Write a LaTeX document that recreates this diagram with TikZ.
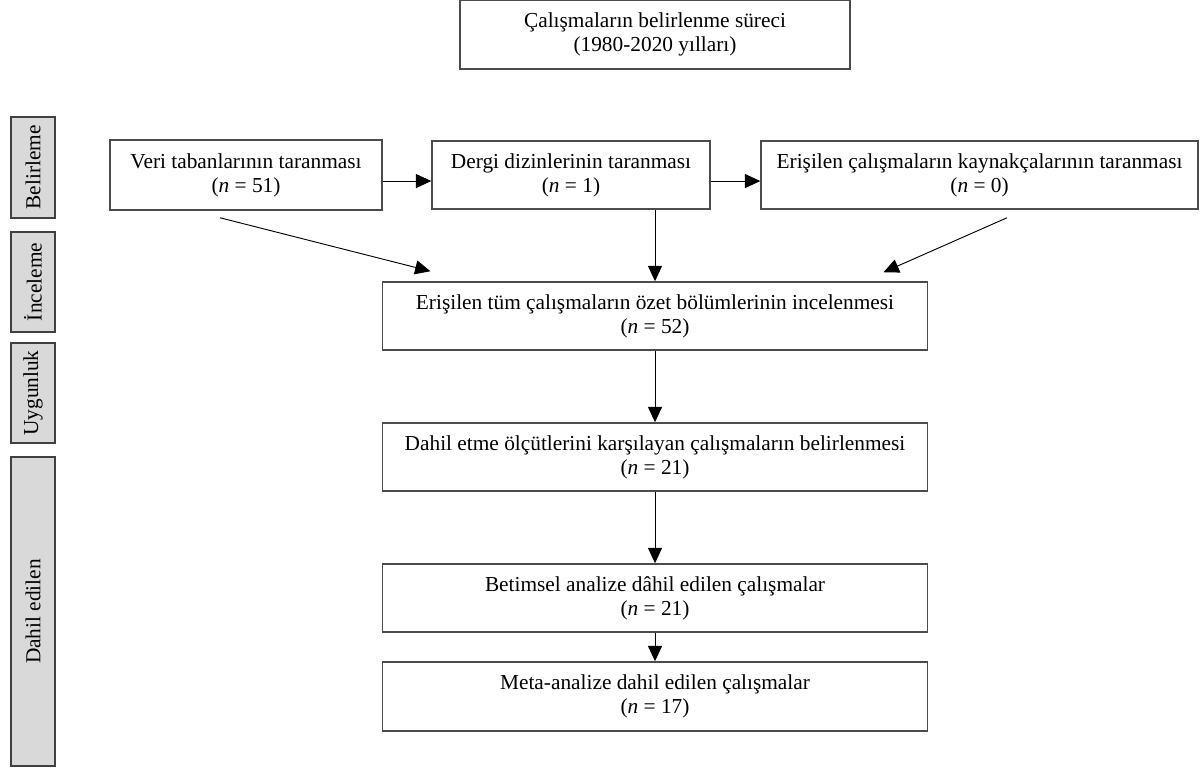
\documentclass[tikz,border=0pt]{standalone}
\usepackage{fontspec}
\setmainfont{Liberation Serif}
\usetikzlibrary{positioning,calc,arrows.meta}

\begin{document}
\begin{tikzpicture}[auto, node distance=105.75pt,
    every node/.style={rectangle, align=center, inner sep=0pt, font=\fontsize{16}{18}\selectfont},
    box/.style={draw=black!70, line width=1.1pt, fill=white, minimum height=51pt},
    side/.style={draw=black!75, line width=0.9pt, fill=black!15, rotate=90, minimum width=75pt, minimum height=33pt},
    arr/.style={-{Triangle[length=11.5pt,width=10.5pt]}, line width=0.7pt, black}]
    \useasboundingbox (0,0) rectangle (902.25pt,-576pt);
    \node [box, minimum width=292.5pt, minimum height=51.75pt] (start) at (491.25pt,-25.875pt) {Çalışmaların belirlenme süreci\\(1980-2020 yılları)};
    \node [box, below of=start, node distance=105.4pt, xshift=-63pt, minimum width=208.5pt] (dergi) {Dergi dizinlerinin taranması\\(\textit{n} = 1)};
    \node [box, left of=dergi, node distance=243.75pt, minimum width=204pt, minimum height=52.5pt] (veri) {Veri tabanlarının taranması\\(\textit{n} = 51)};
    \node [box, right of=dergi, node distance=306.4pt, minimum width=327.75pt] (kaynak) {Erişilen çalışmaların kaynakçalarının taranması\\(\textit{n} = 0)};
    \node [box, below of=start, node distance=211.1pt, minimum width=408.75pt] (incel) {Erişilen tüm çalışmaların özet bölümlerinin incelenmesi\\(\textit{n} = 52)};
    \node [box, below of=incel, minimum width=408.75pt] (dahil) {Dahil etme ölçütlerini karşılayan çalışmaların belirlenmesi\\(\textit{n} = 21)};
    \node [box, below of=dahil, minimum width=408.75pt] (betim) {Betimsel analize dâhil edilen çalışmalar\\(\textit{n} = 21)};
    \node [box, below of=betim, node distance=73.9pt, minimum width=408.75pt, minimum height=51.75pt] (meta) {Meta-analize dahil edilen çalışmalar\\(\textit{n} = 17)};

    % phase labels
    \node [side, minimum width=75.75pt] (pbel) at (24.75pt,-125.6pt) {Belirleme};
    \node [side] (pinc) at (24.75pt,-211.5pt) {İnceleme};
    \node [side] (puyg) at (24.75pt,-294.75pt) {Uygunluk};
    \node [side, minimum width=231.75pt] (pdah) at (24.75pt,-458.6pt) {Dahil edilen};

    \draw [arr] ([yshift=-4.5pt]veri.east) -- ([yshift=-4.5pt]veri.east -| dergi.west);
    \draw [arr] ([yshift=-4.5pt]dergi.east) -- ([yshift=-4.5pt]dergi.east -| kaynak.west);
    \draw [arr] ([xshift=-19.5pt, yshift=-5.25pt]veri.south) -- ([xshift=-168.4pt, yshift=7.5pt]incel.north);
    \draw [arr] (incel.north |- dergi.south) -- (incel.north);
    \draw [arr] ([xshift=20.6pt, yshift=-6pt]kaynak.south) -- ([xshift=171.4pt, yshift=6.75pt]incel.north);
    \draw [arr] (incel) -- (dahil);
    \draw [arr] (dahil) -- (betim);
    \draw [arr] (betim) -- (meta);
\end{tikzpicture}
\end{document}
